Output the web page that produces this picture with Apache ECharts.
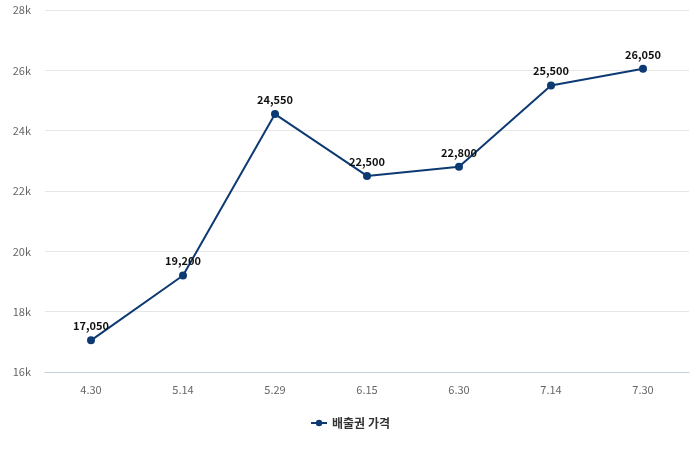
<!DOCTYPE html>
<html>
<head>
<meta charset="utf-8">
<script src="https://cdn.jsdelivr.net/npm/echarts@6/dist/echarts.min.js"></script>
<style>
  html, body { margin: 0; padding: 0; background: #fff; }
  #chart { width: 700px; height: 450px; }
</style>
</head>
<body>
<div id="chart"></div>
<script>
var dates = ['4.30', '5.14', '5.29', '6.15', '6.30', '7.14', '7.30'];
var prices = [17050, 19200, 24550, 22500, 22800, 25500, 26050];
var seriesName = '배출권 가격';

var font = '"Noto Sans CJK KR", "Noto Sans", sans-serif';
var myChart = echarts.init(document.getElementById('chart'));

option = {
  backgroundColor: '#fff',
  textStyle: { fontFamily: font },
  grid: { left: 45, right: 11, top: 10, bottom: 78 },
  legend: {
    bottom: 16,
    left: 'center',
    itemWidth: 16,
    itemHeight: 8,
    textStyle: { color: '#333', fontSize: 12, fontWeight: 'bold', fontFamily: font },
    data: [seriesName]
  },
  xAxis: {
    type: 'category',
    data: dates,
    axisLine: { lineStyle: { color: '#c5cddb' } },
    axisTick: { show: false },
    axisLabel: { color: '#666', fontSize: 11, margin: 12 }
  },
  yAxis: {
    type: 'value',
    min: 16000,
    max: 28000,
    interval: 2000,
    axisLine: { show: false },
    axisTick: { show: false },
    axisLabel: {
      color: '#666',
      fontSize: 11,
      margin: 14,
      formatter: function (v) { return (v / 1000) + 'k'; }
    },
    splitLine: { lineStyle: { color: '#e6e6e6' } }
  },
  series: [{
    name: seriesName,
    type: 'line',
    data: prices,
    symbol: 'circle',
    symbolSize: 8,
    lineStyle: { color: '#0d3a73', width: 2 },
    itemStyle: { color: '#0d3a73' },
    label: {
      show: true,
      position: 'top',
      distance: 5,
      color: '#111',
      fontSize: 11,
      fontWeight: 'bold',
      formatter: function (p) { return p.value.toLocaleString('en-US'); }
    },
    animation: false
  }]
};

myChart.setOption(option);
window.onresize = myChart.resize;
</script>
</body>
</html>
